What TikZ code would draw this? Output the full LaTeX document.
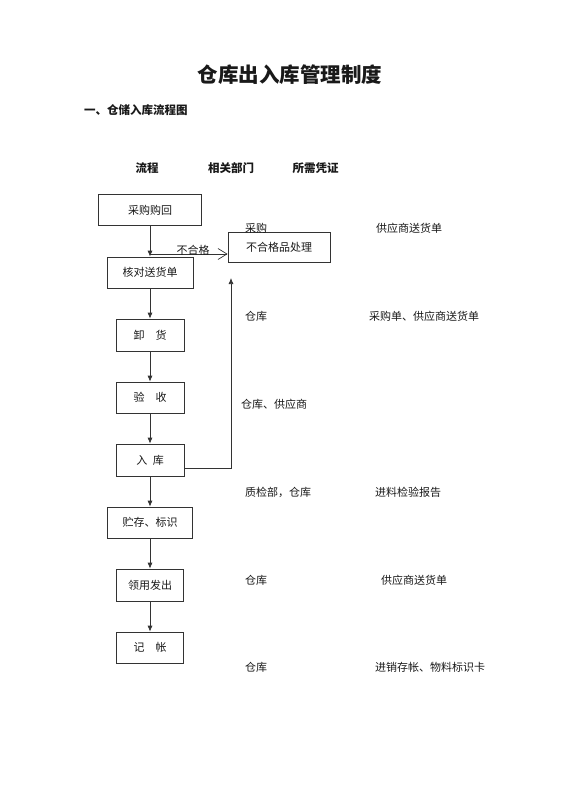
\documentclass[tikz,border=0pt]{standalone}
\usepackage{fontspec}
\setmainfont{Noto Sans CJK SC}
\usepackage{tikz}
\usetikzlibrary{arrows.meta,calc,positioning}

\begin{document}
\begin{tikzpicture}[x=1pt,y=-1pt,
  flowbox/.style={draw=black!80,line width=0.7pt,rectangle,minimum height=31pt,inner sep=0pt,text=black!90,font=\fontsize{11}{13}\selectfont},
  note/.style={anchor=west,inner sep=0pt,text=black!90,font=\fontsize{11}{13}\selectfont},
  head/.style={inner sep=0pt,text=black!90,font=\fontsize{11.5}{14}\selectfont\bfseries},
  flow/.style={draw=black!80,line width=0.7pt,-{Latex[length=6pt,width=5pt]}}]
\useasboundingbox (0,0) rectangle (560,792);
% title and column heads
\node[inner sep=0pt,text=black!90,font=\fontsize{20.5}{24}\selectfont\bfseries] (title) at (290,75) {仓库出入库管理制度};
\node[head,anchor=west] (section) at (84,110) {一、仓储入库流程图};
\node[head] (hFlow) at (147,168) {流程};
\node[head] (hDept) at (231,168) {相关部门};
\node[head] (hDoc) at (315.5,168) {所需凭证};
% flow boxes
\node[flowbox,minimum width=103pt] (buy) at (150,210) {采购购回};
\node[flowbox,minimum width=86pt] (check) at (150,272.5) {核对送货单};
\node[flowbox,minimum width=102pt,minimum height=30pt] (reject) at (279,247) {不合格品处理};
\node[flowbox,minimum width=68pt,minimum height=32pt] (unload) at (150,335) {卸\quad 货};
\node[flowbox,minimum width=68pt] (inspect) at (150,397.5) {验\quad 收};
\node[flowbox,minimum width=68pt,minimum height=32pt] (store) at (150,460) {入\enspace 库};
\node[flowbox,minimum width=85pt] (mark) at (150,522.5) {贮存、标识};
\node[flowbox,minimum width=67pt,minimum height=32pt] (issue) at (150,585) {领用发出};
\node[flowbox,minimum width=67pt] (book) at (150,647.5) {记\quad 帐};
% connectors
\coordinate (fork) at (150,254);
\coordinate (ret) at (231,278);
\draw[flow] (buy) -- (check);
\draw[draw=black!80,line width=0.7pt,-{Straight Barb[length=9pt,width=11pt]}] (fork) -- (fork -| reject.west);
\node[inner sep=0pt,text=black!90,font=\fontsize{11}{13}\selectfont] (lblReject) at (193,250) {不合格};
\draw[flow] (check) -- (unload);
\draw[flow] (unload) -- (inspect);
\draw[flow] (inspect) -- (store);
\draw[flow] ([yshift=-8pt]store.east) -| (ret);
\draw[flow] (store) -- (mark);
\draw[flow] (mark) -- (issue);
\draw[flow] (issue) -- (book);
% departments and documents
\node[note] (dept1) at (245,228) {采购};
\node[note] (doc1) at (376,228) {供应商送货单};
\node[note] (dept2) at (245,316) {仓库};
\node[note] (doc2) at (369,316) {采购单、供应商送货单};
\node[note] (dept3) at (241,404) {仓库、供应商};
\node[note] (dept4) at (245,492) {质检部，仓库};
\node[note] (doc4) at (375,492) {进料检验报告};
\node[note] (dept5) at (245,580) {仓库};
\node[note] (doc5) at (381,580) {供应商送货单};
\node[note] (dept6) at (245,667) {仓库};
\node[note] (doc6) at (375,667) {进销存帐、物料标识卡};
\end{tikzpicture}
\end{document}
